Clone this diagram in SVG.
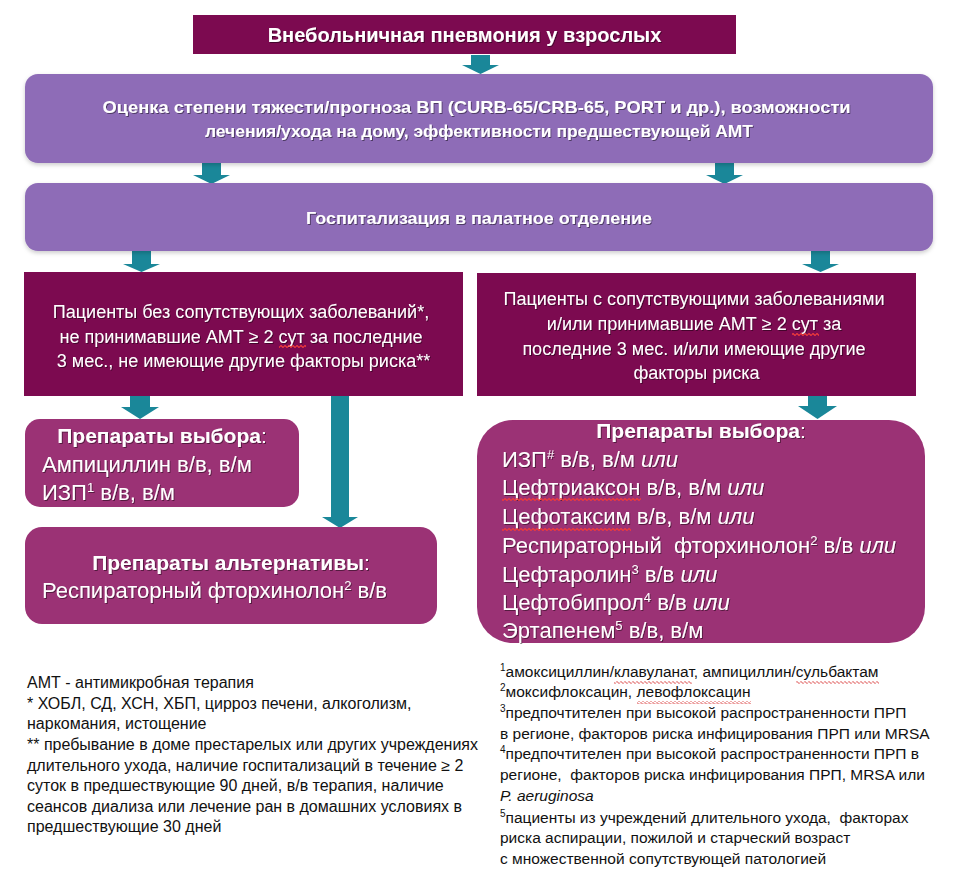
<svg xmlns="http://www.w3.org/2000/svg" width="955" height="885" viewBox="0 0 955 885">
<defs>
<style>
.dark{fill:#7C0A50}
.lav{fill:#8E6CB7}
.mag{fill:#9B3275}
.arr{fill:#1A8799}
.tw{fill:#ffffff;font-family:"Liberation Sans",Arial,sans-serif}
.b{font-weight:bold}
.note{fill:#111111;font-family:"Liberation Sans",Arial,sans-serif}
.it{font-style:italic}
.wv{fill:url(#wave)}
.wv2{fill:url(#wave2)}
</style>
<pattern id="wave" x="0" y="0" width="4" height="3" patternUnits="userSpaceOnUse">
<path d="M0,1.5 L1,0.5 L3,2.5 L4,1.5" fill="none" stroke="#D62828" stroke-width="0.9"/>
</pattern>
<pattern id="wave2" x="0" y="0" width="4" height="3" patternUnits="userSpaceOnUse">
<path d="M0,1.5 L1,0.5 L3,2.5 L4,1.5" fill="none" stroke="#F03A3A" stroke-width="1.2"/>
</pattern>
<filter id="ts" x="-5%" y="-20%" width="110%" height="150%">
<feDropShadow dx="1" dy="1" stdDeviation="0.6" flood-color="#000" flood-opacity="0.45"/>
</filter>
<filter id="bs" x="-5%" y="-10%" width="110%" height="130%">
<feDropShadow dx="0" dy="2" stdDeviation="2" flood-color="#000" flood-opacity="0.2"/>
</filter>
</defs>

<g id="connectors">
<path class="arr" d="M471,55 H490 V65 H499 L480.5,74 L462,65 H471 Z"/>
<path class="arr" d="M202,163 H221 V175 H230 L211.5,184 L193,175 H202 Z"/>
<path class="arr" d="M715,163 H734 V175 H743 L724.5,184 L706,175 H715 Z"/>
<path class="arr" d="M132,251 H151 V264 H160 L141.5,272 L123,264 H132 Z"/>
<path class="arr" d="M811,251 H830 V264 H839 L820.5,272 L802,264 H811 Z"/>
<path class="arr" d="M130,396 H150 V407 H159 L140,419 L121,407 H130 Z"/>
<path class="arr" d="M331,396 H349 V517 H358 L340,528 L322,517 H331 Z"/>
<path class="arr" d="M808,396 H827 V406 H837 L817.5,419 L798,406 H808 Z"/>
</g>

<g id="title">
<rect class="dark" x="193" y="15" width="543" height="39"/>
<text class="tw b" x="464.5" y="42" font-size="20" text-anchor="middle" filter="url(#ts)">Внебольничная пневмония у взрослых</text>
</g>

<g id="assess">
<rect class="lav" x="25" y="74" width="908" height="89" rx="13" filter="url(#bs)"/>
<text class="tw b" font-size="17" text-anchor="middle" filter="url(#ts)">
<tspan x="479" y="113" textLength="748" lengthAdjust="spacingAndGlyphs">Оценка степени тяжести/прогноза ВП (CURB-65/CRB-65, PORT и др.), возможности</tspan>
<tspan x="479" y="137" textLength="548" lengthAdjust="spacingAndGlyphs">лечения/ухода на дому, эффективности предшествующей АМТ</tspan>
</text>
</g>

<g id="hosp">
<rect class="lav" x="25" y="183" width="908" height="68" rx="13" filter="url(#bs)"/>
<text class="tw b" x="479" y="224" font-size="17" text-anchor="middle" textLength="346" lengthAdjust="spacingAndGlyphs" filter="url(#ts)">Госпитализация в палатное отделение</text>
</g>

<g id="group-left">
<rect class="dark" x="24" y="272" width="439" height="124"/>
<text class="tw" font-size="18" text-anchor="middle" filter="url(#ts)">
<tspan x="243.5" y="318">Пациенты без сопутствующих заболеваний*,</tspan>
<tspan x="243.5" y="343">не принимавшие АМТ ≥ 2 сут за последние</tspan>
<tspan x="243.5" y="367">3 мес., не имеющие другие факторы риска**</tspan>
</text>
<rect class="wv2" x="279" y="345" width="27" height="3"/>
</g>

<g id="group-right">
<rect class="dark" x="477" y="273" width="439" height="123"/>
<text class="tw" font-size="18" text-anchor="middle" filter="url(#ts)">
<tspan x="696.5" y="305">Пациенты с сопутствующими заболеваниями</tspan>
<tspan x="696.5" y="330">и/или принимавшие АМТ ≥ 2 сут за</tspan>
<tspan x="696.5" y="355">последние 3 мес. и/или имеющие другие</tspan>
<tspan x="696.5" y="379">факторы риска</tspan>
</text>
<rect class="wv2" x="792" y="333" width="27" height="3"/>
</g>

<g id="choice-left">
<rect class="mag" x="25" y="419" width="274" height="88" rx="15"/>
<text class="tw" font-size="21" text-anchor="middle" x="162" y="443" filter="url(#ts)"><tspan class="b">Препараты выбора</tspan>:</text>
<text class="tw" font-size="22" filter="url(#ts)">
<tspan x="42" y="472">Ампициллин в/в, в/м</tspan>
<tspan x="42" y="500">ИЗП<tspan font-size="13" dy="-8">1</tspan><tspan dy="8"> в/в, в/м</tspan></tspan>
</text>
</g>

<g id="alt-left">
<rect class="mag" x="25" y="527" width="412" height="97" rx="17"/>
<text class="tw" font-size="21" text-anchor="middle" x="231" y="570" filter="url(#ts)"><tspan class="b">Препараты альтернативы</tspan>:</text>
<text class="tw" font-size="22" x="42" y="598" filter="url(#ts)">Респираторный фторхинолон<tspan font-size="13" dy="-8">2</tspan><tspan dy="8"> в/в</tspan></text>
</g>

<g id="choice-right">
<rect class="mag" x="477" y="420" width="448" height="223" rx="36"/>
<text class="tw" font-size="21" text-anchor="middle" x="701" y="438" filter="url(#ts)"><tspan class="b">Препараты выбора</tspan>:</text>
<text class="tw" font-size="22" filter="url(#ts)">
<tspan x="502" y="467">ИЗП<tspan font-size="13" dy="-8">#</tspan><tspan dy="8"> в/в, в/м </tspan><tspan class="it">или</tspan></tspan>
<tspan x="502" y="495">Цефтриаксон в/в, в/м <tspan class="it">или</tspan></tspan>
<tspan x="502" y="524">Цефотаксим в/в, в/м <tspan class="it">или</tspan></tspan>
<tspan x="502" y="553">Респираторный&#160; фторхинолон<tspan font-size="13" dy="-8">2</tspan><tspan dy="8"> в/в </tspan><tspan class="it">или</tspan></tspan>
<tspan x="502" y="582">Цефтаролин<tspan font-size="13" dy="-8">3</tspan><tspan dy="8"> в/в </tspan><tspan class="it">или</tspan></tspan>
<tspan x="502" y="610">Цефтобипрол<tspan font-size="13" dy="-8">4</tspan><tspan dy="8"> в/в </tspan><tspan class="it">или</tspan></tspan>
<tspan x="502" y="638">Эртапенем<tspan font-size="13" dy="-8">5</tspan><tspan dy="8"> в/в, в/м</tspan></tspan>
</text>
<rect class="wv2" x="502" y="498" width="139" height="3"/>
<rect class="wv2" x="502" y="528" width="129" height="3"/>
</g>

<g id="notes-left">
<text class="note" font-size="16">
<tspan x="27" y="688">АМТ - антимикробная терапия</tspan>
<tspan x="27" y="709">* ХОБЛ, СД, ХСН, ХБП, цирроз печени, алкоголизм,</tspan>
<tspan x="27" y="729">наркомания, истощение</tspan>
<tspan x="27" y="750">** пребывание в доме престарелых или других учреждениях</tspan>
<tspan x="27" y="771">длительного ухода, наличие госпитализаций в течение ≥ 2</tspan>
<tspan x="27" y="791">суток в предшествующие 90 дней, в/в терапия, наличие</tspan>
<tspan x="27" y="812">сеансов диализа или лечение ран в домашних условиях в</tspan>
<tspan x="27" y="832">предшествующие 30 дней</tspan>
</text>
</g>

<g id="notes-right">
<text class="note" font-size="15.5">
<tspan x="500" y="677"><tspan font-size="10" dy="-6">1</tspan><tspan dy="6">амоксициллин/клавуланат, ампициллин/сульбактам</tspan></tspan>
<tspan x="500" y="697"><tspan font-size="10" dy="-6">2</tspan><tspan dy="6">моксифлоксацин, левофлоксацин</tspan></tspan>
<tspan x="500" y="718"><tspan font-size="10" dy="-6">3</tspan><tspan dy="6">предпочтителен при высокой распространенности ПРП</tspan></tspan>
<tspan x="500" y="739">в регионе, факторов риска инфицирования ПРП или MRSA</tspan>
<tspan x="500" y="759"><tspan font-size="10" dy="-6">4</tspan><tspan dy="6">предпочтителен при высокой распространенности ПРП в</tspan></tspan>
<tspan x="500" y="780">регионе,&#160; факторов риска инфицирования ПРП, MRSA или</tspan>
<tspan x="500" y="801" class="it">P. aeruginosa</tspan>
<tspan x="500" y="823"><tspan font-size="10" dy="-6">5</tspan><tspan dy="6">пациенты из учреждений длительного ухода,&#160; факторах</tspan></tspan>
<tspan x="500" y="843">риска аспирации, пожилой и старческий возраст</tspan>
<tspan x="500" y="864">с множественной сопутствующей патологией</tspan>
</text>
<rect class="wv" x="614" y="681" width="78" height="3"/>
<rect class="wv" x="796" y="681" width="83" height="3"/>
<rect class="wv" x="637" y="701" width="114" height="3"/>
</g>
</svg>
